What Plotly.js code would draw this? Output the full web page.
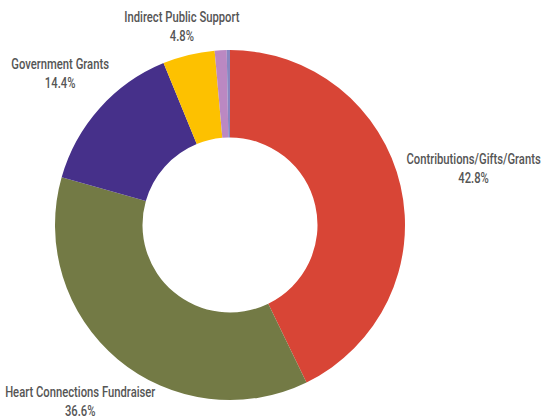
<!DOCTYPE html>
<html>
<head>
<meta charset="utf-8">
<script src="https://cdn.plot.ly/plotly-3.0.1.min.js"></script>
<style>
html,body{margin:0;padding:0;background:#fff;}
#chart{width:542px;height:420px;}
#chart .annotation-text{transform-box:fill-box;transform-origin:center;transform:scaleX(0.75);}
</style>
</head>
<body>
<div id="chart"></div>
<script>
var categories = ["Contributions/Gifts/Grants", "Heart Connections Fundraiser", "Government Grants", "Indirect Public Support", "Other Income", "Investment Income"];
var shares = [42.8, 36.6, 14.4, 4.8, 1.1, 0.3];
var colors = ["#d84536", "#737a45", "#46308a", "#fdc100", "#bb88c2", "#8886c0"];
var showLabel = [true, true, true, true, false, false];

// label anchor spots (paper fractions) for the labelled slices
var labelSpots = [
  { x: 0.873, y: 0.597 },
  { x: 0.148, y: 0.042 },
  { x: 0.1125, y: 0.824 },
  { x: 0.336, y: 0.935 }
];

var FONT = "Roboto, Liberation Sans, sans-serif";

var data = [{
  type: "pie",
  labels: categories,
  values: shares,
  hole: 0.5,
  sort: false,
  direction: "clockwise",
  rotation: 0,
  marker: { colors: colors, line: { width: 0 } },
  textinfo: "none",
  automargin: false,
  domain: { x: [55/542, 405/542], y: [1 - 400/420, 1 - 50/420] },
  hoverinfo: "label+percent"
}];

var annotations = [];
categories.forEach(function (c, i) {
  if (!showLabel[i]) return;
  var spot = labelSpots[i];
  annotations.push({
    xref: "paper", yref: "paper",
    x: spot.x, y: spot.y,
    xanchor: "center", yanchor: "middle",
    showarrow: false,
    align: "center",
    text: c + "<br>" + shares[i].toFixed(1) + "%",
    font: { family: FONT, size: 15, weight: 500, color: "#555555" }
  });
});

var layout = {
  width: 542, height: 420,
  margin: { l: 0, r: 0, t: 0, b: 0 },
  showlegend: false,
  paper_bgcolor: "#ffffff",
  font: { family: FONT, color: "#555555" },
  annotations: annotations
};

Plotly.newPlot("chart", data, layout, { displayModeBar: false, staticPlot: true });
</script>
</body>
</html>
